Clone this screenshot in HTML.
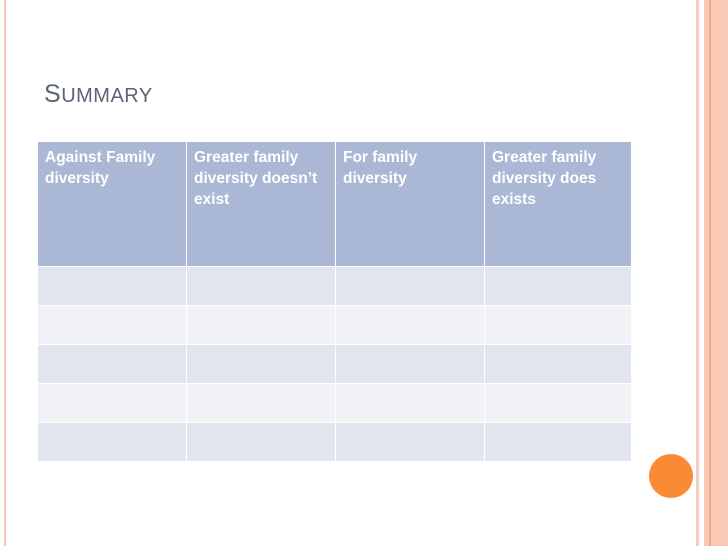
<!DOCTYPE html>
<html><head><meta charset="utf-8"><style>
body{margin:0;width:728px;height:546px;background:#fff;position:relative;overflow:hidden;font-family:"Liberation Sans",sans-serif}
.ab{position:absolute}
table{position:absolute;left:37px;top:141px;border-collapse:collapse;table-layout:fixed}
td{border:1px solid #fff;padding:0;vertical-align:top}
th{background:#aab8d5;color:#fff;font-weight:bold;font-size:15.5px;line-height:21px;text-align:left;vertical-align:top;padding:5px 7px;border:1px solid #fff;height:114px}
tr.a td{background:#e0e5ee;height:38px}
tr.b td{background:#f0f2f6;height:38px}
</style></head><body>
<div class="ab" style="left:4px;top:0;width:2px;height:546px;background:#f7c3b0"></div>
<div class="ab" style="left:696px;top:0;width:3px;height:546px;background:#f9cdbd"></div>
<div class="ab" style="left:704px;top:0;width:24px;height:546px;background:#f9c9b6"></div>
<div class="ab" style="left:709px;top:0;width:2px;height:546px;background:#f0a88e"></div>
<div class="ab" style="left:44px;top:80px;font-size:25px;color:#5b6473;letter-spacing:0.5px">S<span style="font-size:20px">UMMARY</span></div>
<table>
<colgroup><col style="width:149px"><col style="width:149px"><col style="width:149px"><col style="width:147px"></colgroup>
<tr><th>Against Family diversity</th><th>Greater family diversity doesn’t exist</th><th>For family diversity</th><th>Greater family diversity does exists</th></tr>
<tr class="a"><td></td><td></td><td></td><td></td></tr>
<tr class="b"><td></td><td></td><td></td><td></td></tr>
<tr class="a"><td></td><td></td><td></td><td></td></tr>
<tr class="b"><td></td><td></td><td></td><td></td></tr>
<tr class="a"><td></td><td></td><td></td><td></td></tr>
</table>
<div class="ab" style="left:649px;top:454px;width:44px;height:44px;border-radius:50%;background:#fb8a34"></div>
</body></html>
